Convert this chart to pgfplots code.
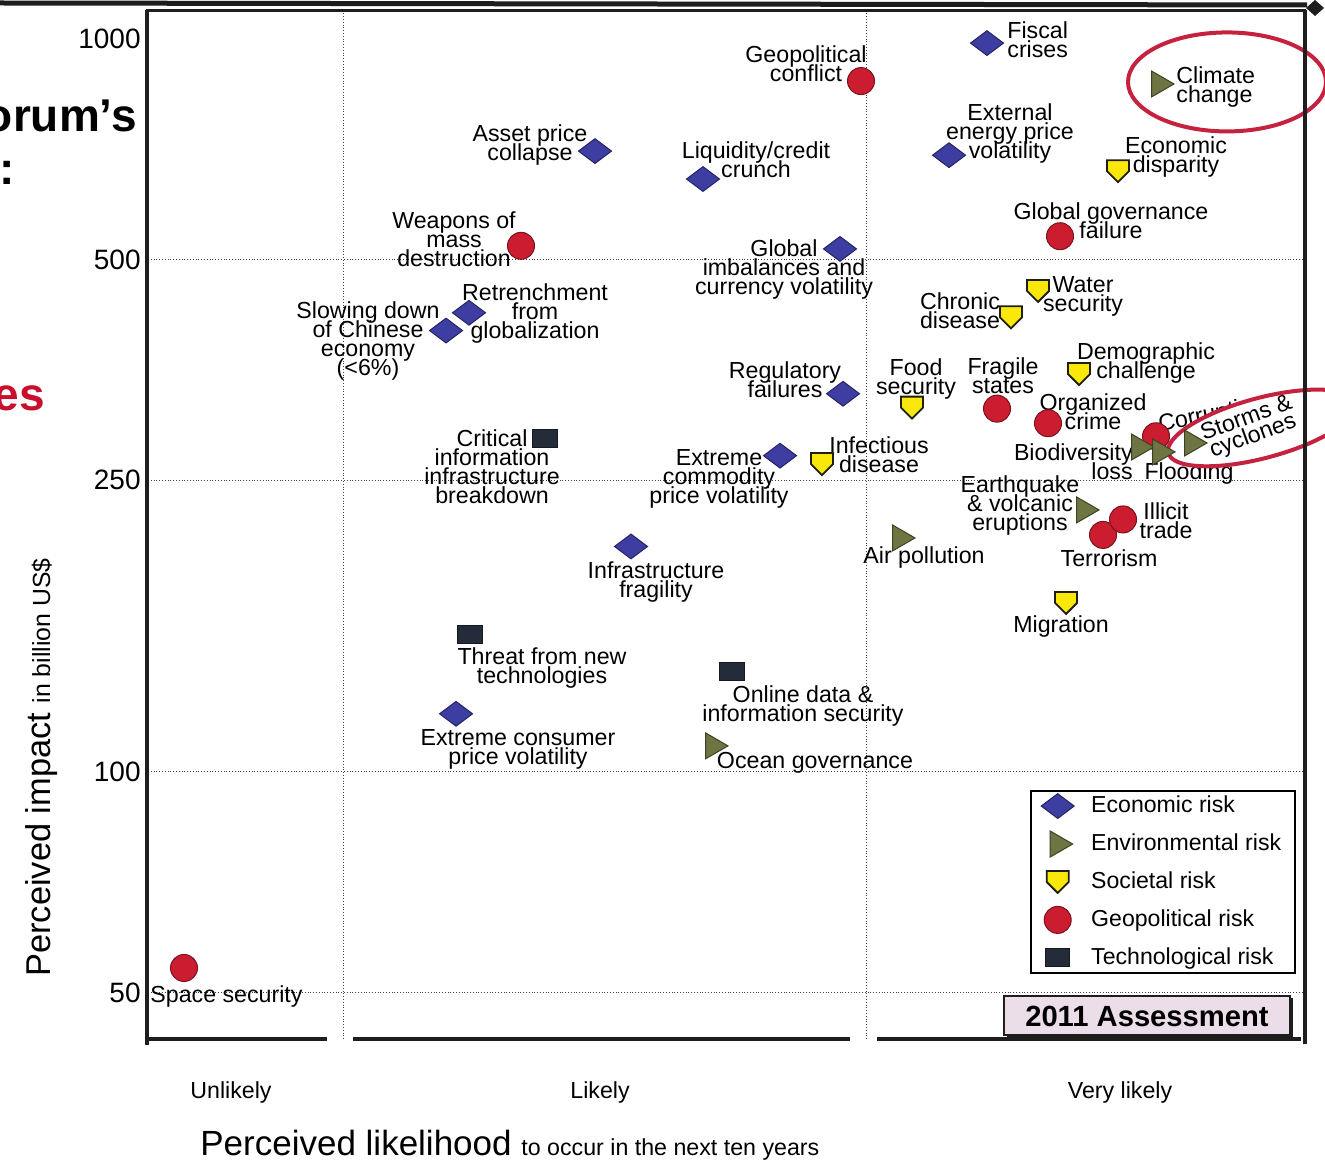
\documentclass[border=0pt]{standalone}
\usepackage{fontspec}
\setmainfont{Liberation Sans}
\usepackage{pgfplots}
\pgfplotsset{compat=1.18}
\usetikzlibrary{shapes.geometric}

\definecolor{econfill}{RGB}{62,62,162}
\definecolor{econline}{RGB}{36,36,100}
\definecolor{envfill}{RGB}{110,116,66}
\definecolor{envline}{RGB}{62,66,36}
\definecolor{socfill}{RGB}{250,232,10}
\definecolor{socline}{RGB}{30,30,20}
\definecolor{geofill}{RGB}{204,28,48}
\definecolor{geoline}{RGB}{120,20,30}
\definecolor{techfill}{RGB}{36,44,58}
\definecolor{techline}{RGB}{20,24,32}
\definecolor{ringred}{RGB}{196,34,62}
\definecolor{titlered}{RGB}{200,16,46}
\definecolor{boxpink}{RGB}{236,222,232}
\definecolor{framegray}{RGB}{30,30,30}

% downward pointing shield used for societal risks
\pgfdeclareplotmark{shield}{%
  \pgfpathmoveto{\pgfqpoint{-\pgfplotmarksize}{\pgfplotmarksize}}%
  \pgfpathlineto{\pgfqpoint{\pgfplotmarksize}{\pgfplotmarksize}}%
  \pgfpathlineto{\pgfqpoint{\pgfplotmarksize}{0pt}}%
  \pgfpathlineto{\pgfqpoint{0pt}{-\pgfplotmarksize}}%
  \pgfpathlineto{\pgfqpoint{-\pgfplotmarksize}{0pt}}%
  \pgfpathclose
  \pgfusepathqfillstroke}

\pgfplotsset{
  econ/.style={only marks, mark=diamond*, mark size=8.25pt,
    mark options={rotate=90, draw=econline, fill=econfill, line width=0.5pt}},
  env/.style={only marks, mark=triangle*, mark size=7.5pt,
    mark options={rotate=-90, draw=envline, fill=envfill, line width=0.5pt}},
  soc/.style={only marks, mark=shield, mark size=5.5pt,
    mark options={draw=socline, fill=socfill, line width=0.9pt}},
  geo/.style={only marks, mark=*, mark size=6.75pt,
    mark options={draw=geoline, fill=geofill, line width=0.5pt}},
  tech/.style={only marks, mark=square*, mark size=6.1pt,
    mark options={yscale=0.74, draw=techline, fill=techfill, line width=0.5pt}},
}

\tikzset{lbl/.style={font=\fontsize{11.6pt}{9.5pt}\selectfont,
  align=center, inner sep=0pt, text=black}}

% label placed relative to its marker: [options]{x}{y}{dx}{dy}{text}
\newcommand\lbl[6][]{\node[lbl,xshift=#4pt,yshift=#5pt,#1] at (axis cs:#2,#3) {#6};}

\begin{document}
\lineskiplimit=-20pt
\lineskip=0pt
\begin{tikzpicture}
\useasboundingbox (0pt,0pt) rectangle (662.5pt,-580pt);

\begin{axis}[
  at={(74pt,-519.5pt)}, anchor=south west,
  scale only axis, width=578.5pt, height=514pt,
  xmin=148, xmax=1305,
  ymode=log, ymin=43.2, ymax=1091.7,
  clip=false,
  axis line style={draw=none},
  major tick length=0pt,
  ytick={50,100,250,500,1000}, yticklabels={50,100,250,500,1000},
  yticklabel style={font=\fontsize{14pt}{16pt}\selectfont, inner sep=0pt, xshift=-3.5pt},
  xtick={231,600,1120}, xticklabels={Unlikely,Likely,Very likely},
  xticklabel style={font=\fontsize{11.6pt}{13pt}\selectfont, anchor=center, yshift=-27pt},
  extra y ticks={50,100,250,500}, extra y tick labels={},
  extra y tick style={grid=major},
  extra x ticks={343,866}, extra x tick labels={},
  extra x tick style={grid=major},
  major grid style={densely dotted, line width=0.45pt, black!75},
  legend image code/.code={\draw[#1] plot coordinates {(0pt,0pt)};},
  legend style={at={(0.7623,0.2422)}, anchor=north west, draw=black, line width=1.2pt,
    fill=white, inner xsep=5pt, inner ysep=0.5pt, row sep=5.1pt,
    font=\fontsize{11.55pt}{13pt}\selectfont,
    nodes={inner sep=2pt, text depth=0.15em},
    /tikz/every odd column/.append style={column sep=6.5pt}},
  legend cell align=left,
]

% legend keys
\addlegendimage{econ}
\addlegendentry{Economic risk}
\addlegendimage{env}
\addlegendentry{Environmental risk}
\addlegendimage{soc}
\addlegendentry{Societal risk}
\addlegendimage{geo}
\addlegendentry{Geopolitical risk}
\addlegendimage{tech}
\addlegendentry{Technological risk}

% Economic risks
\addplot[econ, forget plot] coordinates {
  (987,987) (595,703) (703,644) (949,694) (840,517) (446,400)
  (469,423) (843,328) (780,270) (631,203) (456,120)};
% Societal risks
\addplot[soc, forget plot] coordinates {
  (1118,660) (1038,453) (1011,417) (1079,349) (912,314) (822,263) (1066,170)};
% Geopolitical risks
\addplot[geo, forget plot] coordinates {
  (861,876) (521,522) (1060,538) (997,313) (1048,299) (1156,287)
  (1103,210.5) (1123,221) (184,54)};
% Technological risks
\addplot[tech, forget plot] coordinates {
  (545,285) (470,154) (732,137)};
% Environmental risks
\addplot[env, forget plot] coordinates {
  (1159,868) (1139,277.5) (1160,273.2) (1084,227.7) (900,208.5) (713,108.5)};

% Economic labels
\lbl[anchor=west,align=left]{987}{987}{10}{1.5}{Fiscal\\crises}
\lbl{595}{703}{-32.5}{3}{Asset price\\collapse}
\lbl{703}{644}{26.5}{9.5}{Liquidity/credit\\crunch}
\lbl{949}{694}{30.5}{11}{External\\energy price\\volatility}
\lbl{840}{517}{-28}{-10.5}{Global\\imbalances and\\currency volatility}
\lbl{446}{400}{-39}{-5}{Slowing down\\of Chinese\\economy\\(<6\%)}
\lbl{469}{423}{33}{-0.5}{Retrenchment\\from\\globalization}
\lbl{843}{328}{-29}{7}{Regulatory\\failures}
\lbl{780}{270}{-30.5}{-11.5}{Extreme\\commodity\\price volatility}
\lbl{631}{203}{12.5}{-18}{Infrastructure\\fragility}
\lbl{456}{120}{31}{-18}{Extreme consumer\\price volatility}

% Societal labels
\lbl{1118}{660}{29}{7}{Economic\\disparity}
\lbl{1038}{453}{22.5}{-2.5}{Water\\security}
\lbl{1011}{417}{-25.5}{3.5}{Chronic\\disease}
\lbl{1079}{349}{33.5}{5.5}{Demographic\\challenge}
\lbl{912}{314}{2}{14.5}{Food\\security}
\lbl{822}{263}{28.5}{4.5}{Infectious\\disease}
\lbl{1066}{170}{-2.5}{-12}{Migration}

% Geopolitical labels
\lbl{861}{876}{-27.5}{8.5}{Geopolitical\\conflict}
\lbl{521}{522}{-33.5}{3.5}{Weapons of\\mass\\destruction}
\lbl{1060}{538}{25.5}{8}{Global governance\\failure}
\lbl{997}{313}{3}{16.5}{Fragile\\states}
\lbl{1048}{299}{22.5}{6}{Organized\\crime}
\lbl[rotate=11]{1156}{287}{28}{10.5}{Corruption}
\lbl{1123}{221}{21.5}{-0.5}{Illicit\\trade}
\lbl{1103}{210.5}{3}{-11.5}{Terrorism}
\lbl[anchor=west]{184}{54}{-17}{-14.5}{Space security}

% Technological labels
\lbl{545}{285}{-26.5}{-14}{Critical\\information\\infrastructure\\breakdown}
\lbl{470}{154}{36}{-17}{Threat from new\\technologies}
\lbl{732}{137}{35.5}{-17}{Online data \&\\information security}

% Environmental labels
\lbl[anchor=west,align=left]{1159}{868}{8.5}{-1.5}{Climate\\change}
\lbl[anchor=east,align=right]{1139}{277.5}{-3}{-7.5}{Biodiversity\\loss}
\lbl{1160}{273.2}{14.5}{-11}{Flooding}
\lbl{1084}{227.7}{-32}{2}{Earthquake\\\& volcanic\\eruptions}
\lbl{900}{208.5}{12}{-10}{Air pollution}
\lbl{713}{108.5}{51}{-8.5}{Ocean governance}

% highlighted risks
\node[ellipse, draw=ringred, line width=2pt, minimum width=99pt, minimum height=49.5pt,
  inner sep=0pt] at (axis cs:1227,873.6) {};
\node[ellipse, draw=ringred, line width=2pt, fill=white, minimum width=97pt,
  minimum height=30pt, inner sep=0pt, rotate=15] at (axis cs:1262,294.6) {};
\addplot[env, forget plot] coordinates {(1192,281)};
\lbl[rotate=20]{1192}{281}{29}{7.5}{Storms \&\\cyclones}

\end{axis}

% frame, axis titles and surrounding page elements (1 unit = one 0.5pt step)
\begin{scope}[x=0.5pt, y=-0.5pt]
  \draw[framegray, line width=2.5pt] (0,3) -- (1307,5);
  \fill[framegray] (1306,8) -- (1315,0) -- (1324,8) -- (1315,16) -- cycle;
  \draw[framegray, line width=1.5pt] (146,11) -- (1306,11);
  \draw[framegray, line width=2pt] (147,10) -- (147,1045);
  \draw[framegray, line width=2pt] (1305,10) -- (1305,1044);
  \draw[framegray, line width=2pt] (146,1039) -- (327,1039);
  \draw[framegray, line width=2pt] (353,1039) -- (850,1039);
  \draw[framegray, line width=2pt] (877,1039) -- (1301,1039);

  \draw[framegray, line width=1.2pt, fill=boxpink] (1004,996) rectangle (1290,1035);
  \draw[framegray, line width=1.4pt] (1007,1037) -- (1292,1037) -- (1292,998);
  \node[font=\bfseries\fontsize{14.6pt}{16pt}\selectfont] at (1147,1016) {2011 Assessment};

  \node[anchor=base west, inner sep=0pt] at (200,1155)
    {\fontsize{17.5pt}{20pt}\selectfont Perceived likelihood
     \fontsize{11.6pt}{13pt}\selectfont to occur in the next ten years};
  \node[anchor=base west, inner sep=0pt, rotate=90] at (50,977)
    {\fontsize{17.2pt}{20pt}\selectfont Perceived impact
     \fontsize{12.4pt}{14pt}\selectfont in billion US\$};

  \node[anchor=base east, inner sep=0pt, font=\bfseries\fontsize{23pt}{26pt}\selectfont]
    at (137,132) {orum’s};
  \node[anchor=base east, inner sep=0pt, font=\bfseries\fontsize{23pt}{26pt}\selectfont]
    at (15,185) {r:};
  \node[anchor=base east, inner sep=0pt, text=titlered,
    font=\bfseries\fontsize{23pt}{26pt}\selectfont] at (45,410) {es};
\end{scope}
\end{tikzpicture}
\end{document}
